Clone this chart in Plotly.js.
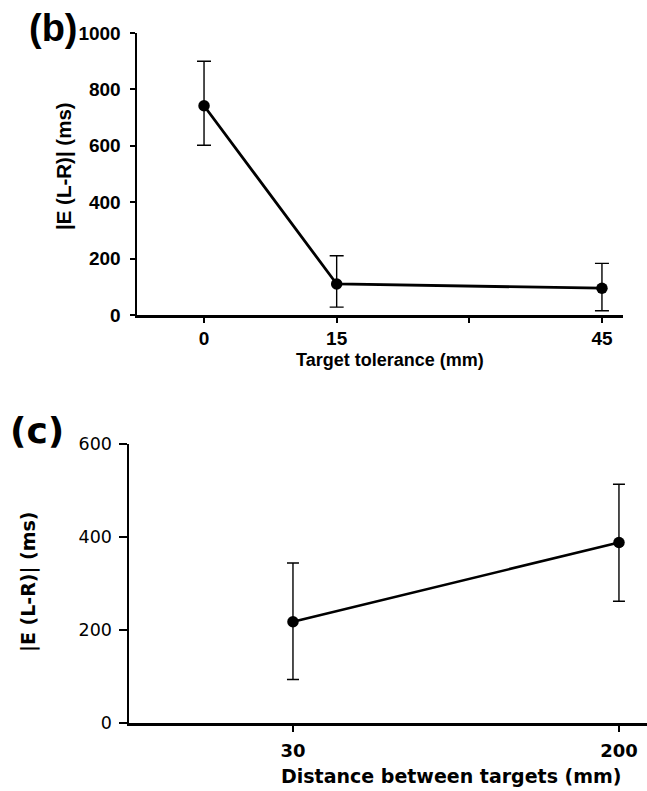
<!DOCTYPE html>
<html>
<head>
<meta charset="utf-8">
<script src="https://cdn.plot.ly/plotly-3.0.1.min.js"></script>
<style>html,body{margin:0;padding:0;background:#fff;}#chart{width:647px;height:791px;}</style>
</head>
<body>
<div id="chart"></div>
<script>
// Panel (b): target tolerance
const tolerance = [0, 15, 45];
const tolMean = [742, 110, 95];
const tolErrPlus = [158, 100, 88];
const tolErrMinus = [140, 82, 80];
const tolTickVals = [0, 15, 30, 45];
const tolTickText = ['0', '15', '', '45'];

// Panel (c): distance between targets
const distance = ['30', '200'];
const distMean = [218, 388];
const distErrPlus = [126, 125];
const distErrMinus = [124, 126];

const narrow = '"Liberation Sans Narrow", "Arial Narrow", "Liberation Sans", Arial, sans-serif';
const verd = '"DejaVu Sans", Verdana, sans-serif';

const traces = [
  {
    x: tolerance, y: tolMean, xaxis: 'x', yaxis: 'y', type: 'scatter', mode: 'lines+markers',
    line: {color: '#000', width: 2.8}, marker: {color: '#000', size: 11.5},
    error_y: {type: 'data', symmetric: false, array: tolErrPlus, arrayminus: tolErrMinus,
              color: '#000', thickness: 1.4, width: 7},
    showlegend: false, hoverinfo: 'skip'
  },
  {
    x: distance, y: distMean, xaxis: 'x2', yaxis: 'y2', type: 'scatter', mode: 'lines+markers',
    line: {color: '#000', width: 2.6}, marker: {color: '#000', size: 11.5},
    error_y: {type: 'data', symmetric: false, array: distErrPlus, arrayminus: distErrMinus,
              color: '#000', thickness: 1.4, width: 6},
    showlegend: false, hoverinfo: 'skip'
  }
];

const W = 647, H = 791;
const px = v => v / W;
const py = v => 1 - v / H;

const layout = {
  width: W, height: H,
  margin: {l: 0, r: 0, t: 0, b: 0},
  paper_bgcolor: '#fff', plot_bgcolor: '#fff',
  showlegend: false,
  xaxis: {
    domain: [px(137), px(623)], anchor: 'y',
    range: [-7.58, 47.38], tickmode: 'array', tickvals: tolTickVals, ticktext: tolTickText,
    showgrid: false, zeroline: false, showline: true, linecolor: '#000', linewidth: 2.5,
    ticks: 'outside', ticklen: 5, tickwidth: 2, tickcolor: '#000',
    tickfont: {family: narrow, size: 19, color: '#000', weight: 'bold'}
  },
  yaxis: {
    domain: [py(315), py(33)], anchor: 'x',
    range: [0, 1000], tickvals: [0, 200, 400, 600, 800, 1000],
    showgrid: false, zeroline: false, showline: true, linecolor: '#000', linewidth: 2.5,
    ticks: 'outside', ticklen: 5, tickwidth: 2, tickcolor: '#000',
    tickfont: {family: narrow, size: 19, color: '#000', weight: 'bold'},
    ticklabelstandoff: 5
  },
  xaxis2: {
    domain: [px(129), 1], anchor: 'y2', type: 'category',
    range: [-0.503, 1.086],
    showgrid: false, zeroline: false, showline: true, linecolor: '#000', linewidth: 2.5,
    ticks: 'outside', ticklen: 6, tickwidth: 2, tickcolor: '#000',
    tickfont: {family: verd, size: 18, color: '#000', weight: 'bold'},
    ticklabelstandoff: 4
  },
  yaxis2: {
    domain: [py(723.3), py(443.7)], anchor: 'x2',
    range: [0, 600], tickvals: [0, 200, 400, 600],
    showgrid: false, zeroline: false, showline: true, linecolor: '#000', linewidth: 2.5,
    ticks: 'outside', ticklen: 8, tickwidth: 2, tickcolor: '#000',
    tickfont: {family: verd, size: 17.5, color: '#000'},
    ticklabelstandoff: 3
  },
  annotations: [
    {text: '(b)', x: px(53), y: py(28), xref: 'paper', yref: 'paper', showarrow: false,
     xanchor: 'center', yanchor: 'middle', font: {family: narrow, size: 38, color: '#000', weight: 'bold'}},
    {text: '(c)', x: px(37), y: py(430), xref: 'paper', yref: 'paper', showarrow: false,
     xanchor: 'center', yanchor: 'middle', font: {family: verd, size: 36, color: '#000', weight: 'bold'}},
    {text: '|E (L-R)| (ms)', x: px(63), y: py(166), xref: 'paper', yref: 'paper', showarrow: false,
     textangle: -90, xanchor: 'center', yanchor: 'middle', font: {family: '"Liberation Sans", Arial, sans-serif', size: 20.5, color: '#000', weight: 'bold'}},
    {text: 'Target tolerance (mm)', x: px(390), y: py(360), xref: 'paper', yref: 'paper', showarrow: false,
     xanchor: 'center', yanchor: 'middle', font: {family: narrow, size: 18, color: '#000', weight: 'bold'}},
    {text: '|E (L-R)| (ms)', x: px(28), y: py(582), xref: 'paper', yref: 'paper', showarrow: false,
     textangle: -90, xanchor: 'center', yanchor: 'middle', font: {family: verd, size: 19, color: '#000', weight: 'bold'}},
    {text: 'Distance between targets (mm)', x: px(451), y: py(776), xref: 'paper', yref: 'paper', showarrow: false,
     xanchor: 'center', yanchor: 'middle', font: {family: verd, size: 19, color: '#000', weight: 'bold'}}
  ]
};

Plotly.newPlot('chart', traces, layout, {staticPlot: true, displayModeBar: false});
</script>
</body>
</html>
